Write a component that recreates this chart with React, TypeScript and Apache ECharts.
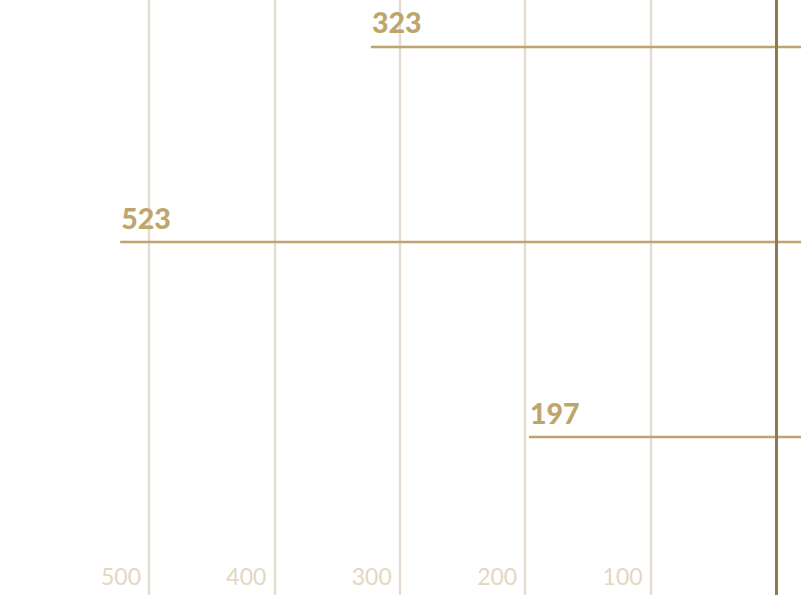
import React, { useEffect, useRef } from "react";
import * as echarts from "echarts";

const categories = ["A", "B", "C"];
const values = [323, 523, 197];
const tickValues = [100, 200, 300, 400, 500];
const axisMin = 0;
const axisMax = 600;
const axisInterval = 100;

const GOLD = "#bea56c";
const AXIS = "#8e7a4d";
const GRID = "#e4dcd0";
const TICK = "#e2d7c1";

export default function App() {
  const ref = useRef<HTMLDivElement>(null);
  useEffect(() => {
    if (!ref.current) return;
    const chart = echarts.init(ref.current, null, { renderer: "svg" });
    const data = values.map((v, i) => [v, i]);
    chart.setOption({
      animation: false,
      backgroundColor: "#ffffff",
      grid: [{ left: 23.6, right: 25, top: 0, bottom: 0, outerBoundsMode: "none" }],
      xAxis: [
        {
          type: "value",
          inverse: true,
          min: axisMin,
          max: axisMax,
          interval: axisInterval,
          axisLine: { show: false },
          axisTick: { show: false },
          splitLine: {
            show: true,
            showMinLine: false,
            showMaxLine: false,
            lineStyle: { color: GRID, width: 2.4 },
          },
          axisLabel: {
            inside: true,
            showMinLabel: false,
            showMaxLabel: false,
            margin: 8,
            align: "right",
            padding: [0, 8, 0, 0],
            color: TICK,
            fontFamily: "Lato",
            fontWeight: 400,
            fontSize: 23,
            formatter: (v: number) => (tickValues.includes(v) ? String(v) : ""),
          },
        },
      ],
      yAxis: [
        {
          type: "value",
          inverse: true,
          min: -0.241,
          max: 2.81,
          z: 10,
          axisLine: { show: true, onZero: true, lineStyle: { color: AXIS, width: 3 } },
          axisTick: { show: false },
          axisLabel: { show: false },
          splitLine: { show: false },
        },
      ],
      series: [
        {
          type: "custom",
          name: "values",
          z: 2,
          data,
          encode: { x: 0, y: 1, itemName: 1 },
          renderItem: (params: any, api: any) => {
            const v = api.value(0);
            const idx = api.value(1);
            const p = api.coord([v, idx]);
            const cs = params.coordSys;
            const endX = cs.x + cs.width + 40;
            return {
              type: "group",
              children: [
                {
                  type: "line",
                  shape: { x1: p[0], y1: p[1], x2: endX, y2: p[1] },
                  style: { stroke: GOLD, lineWidth: 2.6 },
                },
                {
                  type: "text",
                  x: p[0] + 1,
                  y: p[1] - 10,
                  style: {
                    text: String(v),
                    fill: GOLD,
                    font: "900 28.5px Lato",
                    align: "left",
                    verticalAlign: "bottom",
                  },
                },
              ],
            };
          },
        },
      ],
    });
    return () => chart.dispose();
  }, []);
  return (
    <div
      ref={ref}
      data-categories={categories.join(",")}
      style={{ position: "fixed", left: 0, top: 0, width: 801, height: 595 }}
    />
  );
}
